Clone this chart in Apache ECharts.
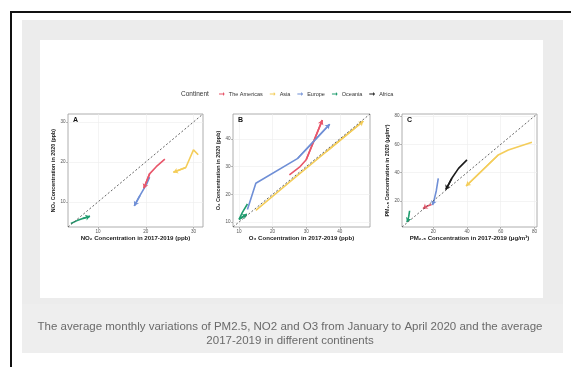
<!DOCTYPE html>
<html>
<head>
<meta charset="utf-8">
<script src="https://cdn.jsdelivr.net/npm/echarts@6/dist/echarts.min.js"></script>
<style>
html,body{margin:0;padding:0;background:#fff;}
#c{width:571px;height:367px;}
</style>
</head>
<body>
<div id="c"></div>
<script>
// ---------- data (Jan -> Apr, [2017-2019 average, 2020]) ----------
const continents = ['The Americas', 'Asia', 'Europe', 'Oceania', 'Africa'];

// Panel A: NO2 (ppb)
const no2Americas = [[24.0, 20.7], [22.2, 18.8], [20.8, 17.0], [19.6, 13.4]];
const no2Asia     = [[31.0, 21.8], [30.0, 23.0], [28.4, 18.6], [25.8, 17.4]];
const no2Europe   = [[20.8, 16.2], [20.2, 14.5], [18.8, 11.6], [17.6, 9.0]];
const no2Oceania  = [[4.3, 4.6], [5.6, 5.3], [6.8, 5.8], [8.3, 6.4]];

// Panel B: O3 (ppb)
const o3Americas = [[25.0, 27.0], [28.0, 29.8], [30.0, 32.5], [34.8, 46.8]];
const o3Asia     = [[15.0, 14.2], [26.0, 25.4], [36.0, 35.4], [47.0, 46.4]];
const o3Europe   = [[12.5, 14.5], [15.0, 24.0], [27.5, 33.0], [37.0, 45.3]];
const o3Oceania  = [[12.5, 16.5], [11.0, 13.5], [10.0, 11.0], [12.3, 12.8]];

// Panel C: PM2.5 (ug/m3)
const pmAmericas = [[19.0, 17.5], [17.0, 16.5], [15.5, 15.8], [14.0, 14.5]];
const pmAsia     = [[78.5, 61.5], [64.5, 56.0], [58.5, 52.5], [39.5, 30.5]];
const pmEurope   = [[23.0, 36.0], [21.8, 27.0], [20.5, 20.5], [19.5, 17.0]];
const pmOceania  = [[6.0, 13.0], [5.5, 9.0], [5.0, 6.5], [4.5, 5.0]];
const pmAfrica   = [[40.0, 49.0], [35.0, 43.0], [31.0, 36.0], [27.5, 28.0]];

// tick labels and axis limits
const ticksA = [10, 20, 30];
const ticksB = [10, 20, 30, 40];
const ticksC = [20, 40, 60, 80];
const limA = [3.7, 32];
const limB = [8.2, 49];
const limC = [1.5, 81.5];

const legendTitle = 'Continent';
const panelLetters = ['A', 'B', 'C'];
const xNames = ['NO₂ Concentration in 2017-2019 (ppb)', 'O₃ Concentration in 2017-2019 (ppb)', 'PM₂.₅ Concentration in 2017-2019 (μg/m³)'];
const yNames = ['NO₂ Concentration in 2020 (ppb)', 'O₃ Concentration in 2020 (ppb)', 'PM₂.₅ Concentration in 2020 (μg/m³)'];
const captionLines = ['The average monthly variations of PM2.5, NO2 and O3 from January to April 2020 and the average', '2017-2019 in different continents'];

// ---------- styles ----------
const colorOf = {
  'The Americas': '#E8566A',
  'Asia': '#F4CD5A',
  'Europe': '#6F8FD6',
  'Oceania': '#1F9C6E',
  'Africa': '#1b1b1b'
};

const panels = [
  { lim: limA, ticks: ticksA, series: { 'The Americas': no2Americas, 'Asia': no2Asia, 'Europe': no2Europe, 'Oceania': no2Oceania } },
  { lim: limB, ticks: ticksB, series: { 'Asia': o3Asia, 'The Americas': o3Americas, 'Europe': o3Europe, 'Oceania': o3Oceania } },
  { lim: limC, ticks: ticksC, series: { 'The Americas': pmAmericas, 'Asia': pmAsia, 'Europe': pmEurope, 'Oceania': pmOceania, 'Africa': pmAfrica } }
];

const gridBoxes = [
  { left: 68, top: 114, width: 135, height: 113 },
  { left: 233, top: 114, width: 137, height: 113 },
  { left: 402, top: 114, width: 135, height: 113 }
];

const grids = [], xAxes = [], yAxes = [], series = [];

function axisOpt(i, lim, ticks, name, isY) {
  return {
    type: 'value', gridIndex: i, min: lim[0], max: lim[1],
    name: name, nameLocation: 'middle', nameGap: isY ? 11 : 8.5,
    nameTextStyle: { fontSize: isY ? 5.4 : 6.1, fontWeight: 'bold', color: '#222', fontFamily: 'Liberation Sans' },
    axisLine: { show: false },
    axisTick: { show: true, length: 2, lineStyle: { color: '#777', width: 0.5 }, customValues: ticks },
    axisLabel: { fontSize: 4.6, color: '#555', margin: 2.5, customValues: ticks, fontFamily: 'Liberation Sans' },
    splitLine: { show: true, lineStyle: { color: '#ececec', width: 0.6 } }
  };
}

panels.forEach((p, i) => {
  grids.push(Object.assign({ show: true, borderColor: '#9a9a9a', borderWidth: 0.8, backgroundColor: '#fff', containLabel: false }, gridBoxes[i]));
  xAxes.push(axisOpt(i, p.lim, p.ticks, xNames[i], false));
  yAxes.push(axisOpt(i, p.lim, p.ticks, yNames[i], true));
  Object.keys(p.series).forEach(name => {
    const d = p.series[name];
    const n = d.length;
    series.push({
      type: 'line', name: name, xAxisIndex: i, yAxisIndex: i,
      data: d, showSymbol: false, symbol: 'none', z: 2,
      itemStyle: { color: colorOf[name] },
      lineStyle: { color: colorOf[name], width: 1.6 },
      markLine: {
        silent: true, symbol: ['none', 'arrow'], symbolSize: 4.5,
        label: { show: false },
        lineStyle: { color: colorOf[name], width: 1.6, type: 'solid' },
        emphasis: { disabled: true },
        data: [[{ coord: d[n - 2] }, { coord: d[n - 1] }]]
      }
    });
  });
  series.push({
    type: 'line', name: 'identity', xAxisIndex: i, yAxisIndex: i,
    data: [[p.lim[0], p.lim[0]], [p.lim[1], p.lim[1]]],
    symbol: 'none', z: 5, silent: true,
    lineStyle: { color: '#555', width: 0.9, type: [2, 2] }
  });
});

const graphics = [
  { type: 'rect', z: -30, shape: { x: 0, y: 0, width: 571, height: 367 }, style: { fill: '#fff' } },
  { type: 'rect', z: -29, shape: { x: 11, y: 12, width: 620, height: 420 }, style: { fill: 'none', stroke: '#111', lineWidth: 2 } },
  { type: 'rect', z: -28, shape: { x: 22, y: 20, width: 541, height: 333 }, style: { fill: '#ececec' } },
  { type: 'rect', z: -27, shape: { x: 22, y: 304, width: 541, height: 49 }, style: { fill: '#eeeeee' } },
  { type: 'rect', z: -26, shape: { x: 40, y: 40, width: 503, height: 258 }, style: { fill: '#fff' } },
  { type: 'text', z: 10, x: 181, y: 94, style: { text: legendTitle, fontSize: 6.5, fill: '#333', verticalAlign: 'middle', fontFamily: 'Liberation Sans' } },
  { type: 'text', z: 10, x: 290, y: 327, style: { text: captionLines[0], fontSize: 11.5, fill: '#6a6a6a', align: 'center', verticalAlign: 'middle', fontFamily: 'Liberation Sans' } },
  { type: 'text', z: 10, x: 290, y: 341, style: { text: captionLines[1], fontSize: 11.5, fill: '#6a6a6a', align: 'center', verticalAlign: 'middle', fontFamily: 'Liberation Sans' } }
];
panelLetters.forEach((t, i) => {
  graphics.push({ type: 'text', z: 10, x: gridBoxes[i].left + 5, y: gridBoxes[i].top + 6, style: { text: t, fontSize: 7, fontWeight: 'bold', fill: '#111', verticalAlign: 'middle', fontFamily: 'Liberation Sans' } });
});

const chart = echarts.init(document.getElementById('c'), null, { renderer: 'canvas' });
chart.setOption({
  animation: false,
  backgroundColor: '#fff',
  graphic: graphics,
  legend: {
    data: continents, left: 214, top: 86,
    itemWidth: 8, itemHeight: 4, itemGap: 7,
    icon: 'path://M0,4 L7,4 L7,1.5 L10,5 L7,8.5 L7,6 L0,6 Z',
    textStyle: { fontSize: 5.5, color: '#333', fontFamily: 'Liberation Sans', padding: [0, 0, 0, -2] },
    selectedMode: false
  },
  grid: grids, xAxis: xAxes, yAxis: yAxes, series: series
});
</script>
</body>
</html>
